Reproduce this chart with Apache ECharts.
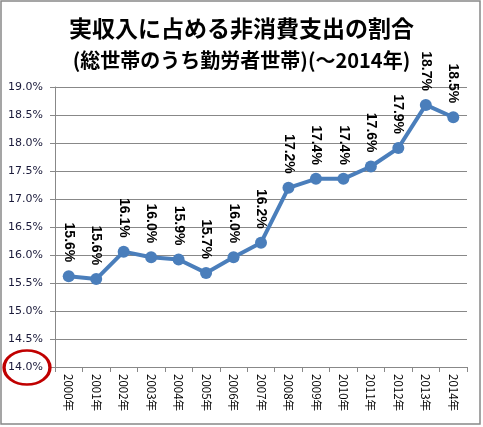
<!DOCTYPE html>
<html><head><meta charset="utf-8">
<script src="https://cdn.jsdelivr.net/npm/echarts@6/dist/echarts.min.js"></script>
<style>html,body{margin:0;padding:0;background:#fff}#c{width:483px;height:427px}</style>
</head><body><div id="c"></div>
<script>
const years = ['2000年','2001年','2002年','2003年','2004年','2005年','2006年','2007年','2008年','2009年','2010年','2011年','2012年','2013年','2014年'];
const ratio = [15.62,15.57,16.06,15.96,15.92,15.68,15.96,16.22,17.20,17.36,17.36,17.58,17.91,18.68,18.46];
const yTicks = {min:14, max:19, step:0.5};
const titleText = '実収入に占める非消費支出の割合';
const subText = '(総世帯のうち勤労者世帯)(～2014年)';

const chart = echarts.init(document.getElementById('c'));
chart.setOption({
  animation:false,
  backgroundColor:'#fff',
  title:[
    {text:titleText,left:'center',top:12,textStyle:{fontFamily:'Noto Sans CJK JP',fontWeight:'bold',fontSize:23,color:'#000'}},
    {text:subText,left:'center',top:45,textStyle:{fontFamily:'Noto Sans CJK JP',fontWeight:'bold',fontSize:20,color:'#000'}}
  ],
  grid:{left:55,right:16,top:87,bottom:60,containLabel:false},
  xAxis:{type:'category',data:years,boundaryGap:true,
    axisLine:{lineStyle:{color:'#888',width:1}},
    axisTick:{show:true,length:5,lineStyle:{color:'#888'},alignWithLabel:false},
    axisLabel:{rotate:-90,fontSize:11.5,color:'#000',fontFamily:'Noto Sans CJK JP',margin:7,interval:0}},
  yAxis:{type:'value',min:yTicks.min,max:yTicks.max,interval:yTicks.step,
    axisLine:{show:true,lineStyle:{color:'#888'}},
    axisTick:{show:true,length:5,lineStyle:{color:'#888'}},
    splitLine:{lineStyle:{color:'#888',width:1}},
    axisLabel:{formatter:v=>v.toFixed(1)+'%',fontSize:11,color:'#1a1a3a',fontFamily:'DejaVu Sans',margin:12}},
  series:[{type:'line',data:ratio,
    lineStyle:{color:'#4a7ebb',width:4},
    itemStyle:{color:'#4a7ebb'},
    symbol:'circle',symbolSize:12,
    label:{show:true,position:'top',distance:8,rotate:-90,align:'right',verticalAlign:'middle',
      formatter:p=>p.value.toFixed(1)+'%',fontSize:14,fontWeight:'bold',color:'#000',fontFamily:'Liberation Sans'}}],
  graphic:[
    {type:'rect',shape:{x:1,y:1,width:479,height:423},style:{fill:'none',stroke:'#888',lineWidth:1.5},silent:true},
    {type:'circle',x:27,y:367.5,scaleX:1.35,scaleY:1,shape:{cx:0,cy:0,r:17},style:{fill:'none',stroke:'#c00000',lineWidth:2.5,strokeNoScale:true},silent:true,z:10}
  ]
});
</script></body></html>
